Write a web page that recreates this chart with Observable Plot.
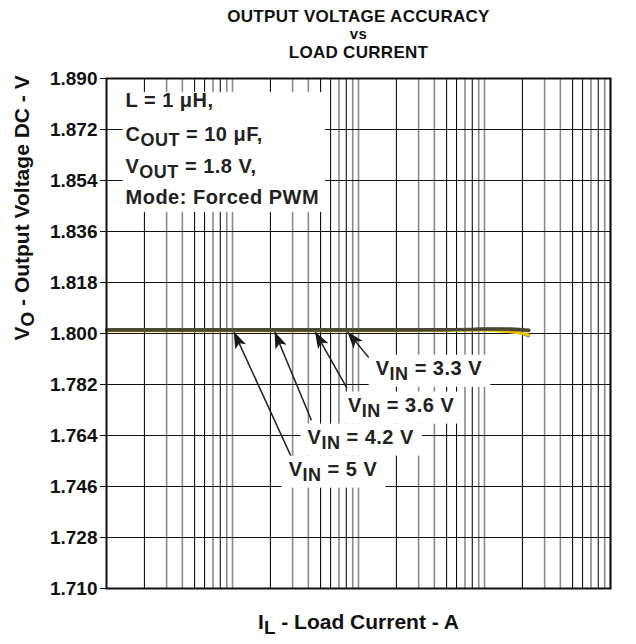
<!DOCTYPE html>
<html>
<head>
<meta charset="utf-8">
<script src="https://cdn.jsdelivr.net/npm/d3@7"></script>
<script src="https://cdn.jsdelivr.net/npm/@observablehq/plot@0.6"></script>
<style>
  html, body { margin: 0; padding: 0; background: #fff; }
  #chart { width: 636px; height: 644px; }
  svg { font-family: "Liberation Sans", Arial, sans-serif; }
</style>
</head>
<body>
<div id="chart"></div>
<script>
// ---- data ----
const loadCurrent = [0.001, 0.002, 0.005, 0.01, 0.02, 0.05, 0.1, 0.2, 0.5, 0.8, 1, 1.3, 1.6, 2, 2.25];
const vout33 = [1.8016, 1.8016, 1.8016, 1.8016, 1.8016, 1.8016, 1.8016, 1.8016, 1.8016, 1.8016, 1.8016, 1.8013, 1.8007, 1.7998, 1.7990];
const vout36 = [1.8010, 1.8010, 1.8010, 1.8010, 1.8010, 1.8010, 1.8010, 1.8010, 1.8011, 1.8012, 1.8012, 1.8010, 1.8006, 1.8000, 1.7995];
const vout42 = [1.8012, 1.8012, 1.8012, 1.8012, 1.8012, 1.8012, 1.8012, 1.8012, 1.8013, 1.8014, 1.8015, 1.8015, 1.8014, 1.8012, 1.8010];
const vout5  = [1.8013, 1.8013, 1.8013, 1.8013, 1.8013, 1.8013, 1.8013, 1.8013, 1.8014, 1.8015, 1.8016, 1.8016, 1.8016, 1.8014, 1.8012];
const seriesNames  = ["VIN = 3.3 V", "VIN = 3.6 V", "VIN = 4.2 V", "VIN = 5 V"];
const seriesValues = [vout33, vout36, vout42, vout5];
const seriesColors = ["#3c8f8c", "#f0c000", "#5a5a35", "#4a4631"];
const seriesWidths = [2, 3, 3.2, 3.2];

const xTicks = [0.001, 0.01, 0.1, 1, 10];
const xTickLabels = ["0.001", "0.01", "0.1", "1", "10"];
const yTicks = [1.710, 1.728, 1.746, 1.764, 1.782, 1.800, 1.818, 1.836, 1.854, 1.872, 1.890];
const yTickLabels = ["1.710", "1.728", "1.746", "1.764", "1.782", "1.800", "1.818", "1.836", "1.854", "1.872", "1.890"];
const decades = [0.001, 0.01, 0.1, 1];
const darkMultiples = [2, 5, 6, 8];
const grayMultiples = [3, 4, 7, 9, 10];

const titleLines = ["OUTPUT VOLTAGE ACCURACY", "vs", "LOAD CURRENT"];
const xLabel = "I_{L} - Load Current - A";
const yLabel = "V_{O} - Output Voltage DC - V";
const infoLines = ["L = 1 \u03BCH,", "C_{OUT} = 10 \u03BCF,", "V_{OUT} = 1.8 V,", "Mode: Forced PWM"];

// annotation labels (data units): label text anchor, arrow tail and arrow tip
const annLabels = ["V_{IN} = 3.3 V", "V_{IN} = 3.6 V", "V_{IN} = 4.2 V", "V_{IN} = 5 V"];
const annTextX  = [0.137, 0.0825, 0.0394, 0.0279];
const annTextY  = [1.7877, 1.7747, 1.7634, 1.7521];
const annTailX  = [0.142, 0.081, 0.0423, 0.0294];
const annTailY  = [1.7877, 1.7807, 1.7694, 1.7563];
const annTipX   = [0.0825, 0.0455, 0.0217, 0.0103];
const annTipY   = [1.8004, 1.8004, 1.8004, 1.8004];

// ---- build tables ----
const gridDark = [], gridGray = [];
decades.forEach(d => { darkMultiples.forEach(m => gridDark.push(d * m)); grayMultiples.forEach(m => gridGray.push(d * m)); });
const ann = annLabels.map((t, i) => ({t, x: annTextX[i], y: annTextY[i], x1: annTailX[i], y1: annTailY[i], x2: annTipX[i], y2: annTipY[i]}));

const TICK_FS = 19, LBL_FS = 20, INFO_FS = 20, AX_FS = 21;
const titleDy = [-62, -44, -26];
const titleFs = [17, 15, 17];
const infoDy = [22, 56, 88, 119];

const plot = Plot.plot({
  width: 636, height: 644,
  marginLeft: 106, marginRight: 26, marginTop: 78, marginBottom: 56,
  style: {fontFamily: '"Liberation Sans", Arial, sans-serif', fontSize: TICK_FS + "px", fontWeight: "bold", color: "#111", background: "#fff"},
  x: {type: "log", domain: [0.001, 10]},
  y: {domain: [1.710, 1.890]},
  marks: [
    Plot.ruleX(gridGray, {stroke: "#8a8a8a", strokeWidth: 1.6}),
    Plot.ruleX(gridDark, {stroke: "#111", strokeWidth: 1.1}),
    Plot.ruleY(yTicks, {stroke: "#111", strokeWidth: 1.2}),
    Plot.axisX(xTicks, {tickSize: 0, tickPadding: 3, tickFormat: (d, i) => xTickLabels[i], fontSize: TICK_FS, fontWeight: "bold", label: null}),
    Plot.axisY(yTicks, {tickSize: 6, tickPadding: 3, tickFormat: (d, i) => yTickLabels[i], fontSize: TICK_FS, fontWeight: "bold", label: null, stroke: "#111"}),
    ...infoLines.map((t, i) => Plot.text([t], {frameAnchor: "top-left", dx: 19, dy: infoDy[i], textAnchor: "start", lineAnchor: "middle", fontSize: INFO_FS, fontWeight: "bold", fill: "#222", ariaDescription: "info"})),
    ...seriesValues.map((vals, s) => Plot.line(vals, {x: (d, i) => loadCurrent[i], y: d => d, stroke: seriesColors[s], strokeWidth: seriesWidths[s], curve: "monotone-x", ariaDescription: seriesNames[s]})),
    Plot.link(ann, {x1: "x1", y1: "y1", x2: "x2", y2: "y2", stroke: "#222", strokeWidth: 1.5, ariaDescription: "arrows"}),
    Plot.text(ann, {x: "x", y: "y", text: "t", textAnchor: "start", lineAnchor: "middle", fontSize: LBL_FS, fontWeight: "bold", fill: "#222", ariaDescription: "vinlabel"}),
    ...titleLines.map((t, i) => Plot.text([t], {frameAnchor: "top", dy: titleDy[i], lineAnchor: "middle", fontSize: titleFs[i], fontWeight: "bold", fill: "#111", ariaDescription: "title"})),
    Plot.text([xLabel], {frameAnchor: "bottom", dy: 34, lineAnchor: "middle", fontSize: AX_FS, fontWeight: "bold", fill: "#111", ariaDescription: "xlabel"}),
    Plot.text([yLabel], {frameAnchor: "left", dx: -84, dy: 7, rotate: -90, lineAnchor: "middle", fontSize: AX_FS, fontWeight: "bold", fill: "#111", ariaDescription: "ylabel"}),
    Plot.frame({stroke: "#111", strokeWidth: 2})
  ]
});
document.getElementById("chart").appendChild(plot);

const svg = d3.select(plot);
const NS = "http://www.w3.org/2000/svg";

// letter spacing tweaks
svg.selectAll('g[aria-description="info"] text').attr("letter-spacing", "0.5px");
svg.selectAll('g[aria-description="vinlabel"] text').attr("letter-spacing", "0.5px");
svg.selectAll('g[aria-description="title"] text').attr("letter-spacing", "0.3px");

// subscripts
function subify(el) {
  const s = el.textContent;
  if (!s.includes("_{")) return;
  while (el.firstChild) el.removeChild(el.firstChild);
  s.split(/(_\{[^}]*\})/).forEach(part => {
    if (!part) return;
    const ts = document.createElementNS(NS, "tspan");
    if (part.startsWith("_{")) {
      ts.textContent = part.slice(2, -1);
      ts.setAttribute("baseline-shift", "-5px");
      ts.setAttribute("font-size", "0.9em");
    } else ts.textContent = part;
    el.appendChild(ts);
  });
}
svg.selectAll("text").each(function() { subify(this); });

// white boxes behind info & annotation labels (root coordinates)
const svgRect = plot.getBoundingClientRect();
function rectAt(x, y, w, h, before) {
  const r = document.createElementNS(NS, "rect");
  r.setAttribute("x", x); r.setAttribute("y", y);
  r.setAttribute("width", w); r.setAttribute("height", h);
  r.setAttribute("fill", "#fff");
  before.parentNode.insertBefore(r, before);
}
const infoGs = plot.querySelectorAll('g[aria-description="info"]');
if (infoGs.length) {
  let x0 = Infinity, y0 = Infinity, x1 = -Infinity, y1 = -Infinity;
  infoGs.forEach(g => { const b = g.getBoundingClientRect(); x0 = Math.min(x0, b.left); y0 = Math.min(y0, b.top); x1 = Math.max(x1, b.right); y1 = Math.max(y1, b.bottom); });
  rectAt(x0 - svgRect.left - 3, y0 - svgRect.top + 3, x1 - x0 + 9, y1 - y0 + 1, infoGs[0]);
}
const vg = plot.querySelector('g[aria-description="vinlabel"]');
if (vg) {
  vg.querySelectorAll("text").forEach(t => {
    const b = t.getBoundingClientRect();
    rectAt(b.left - svgRect.left - 7, b.top - svgRect.top - 2, b.width + 15, b.height + 5, vg);
  });
}

// filled arrowheads
const defs = svg.insert("defs", ":first-child");
defs.append("marker").attr("id", "ahead").attr("markerUnits", "userSpaceOnUse")
  .attr("viewBox", "0 0 17 13").attr("refX", 16).attr("refY", 6.5)
  .attr("markerWidth", 17).attr("markerHeight", 13).attr("orient", "auto")
  .append("path").attr("d", "M0,0.5 L17,6.5 L0,12.5 L4,6.5 Z").attr("fill", "#1a1a1a");
svg.selectAll('g[aria-description="arrows"] path').attr("marker-end", "url(#ahead)");
</script>
</body>
</html>
